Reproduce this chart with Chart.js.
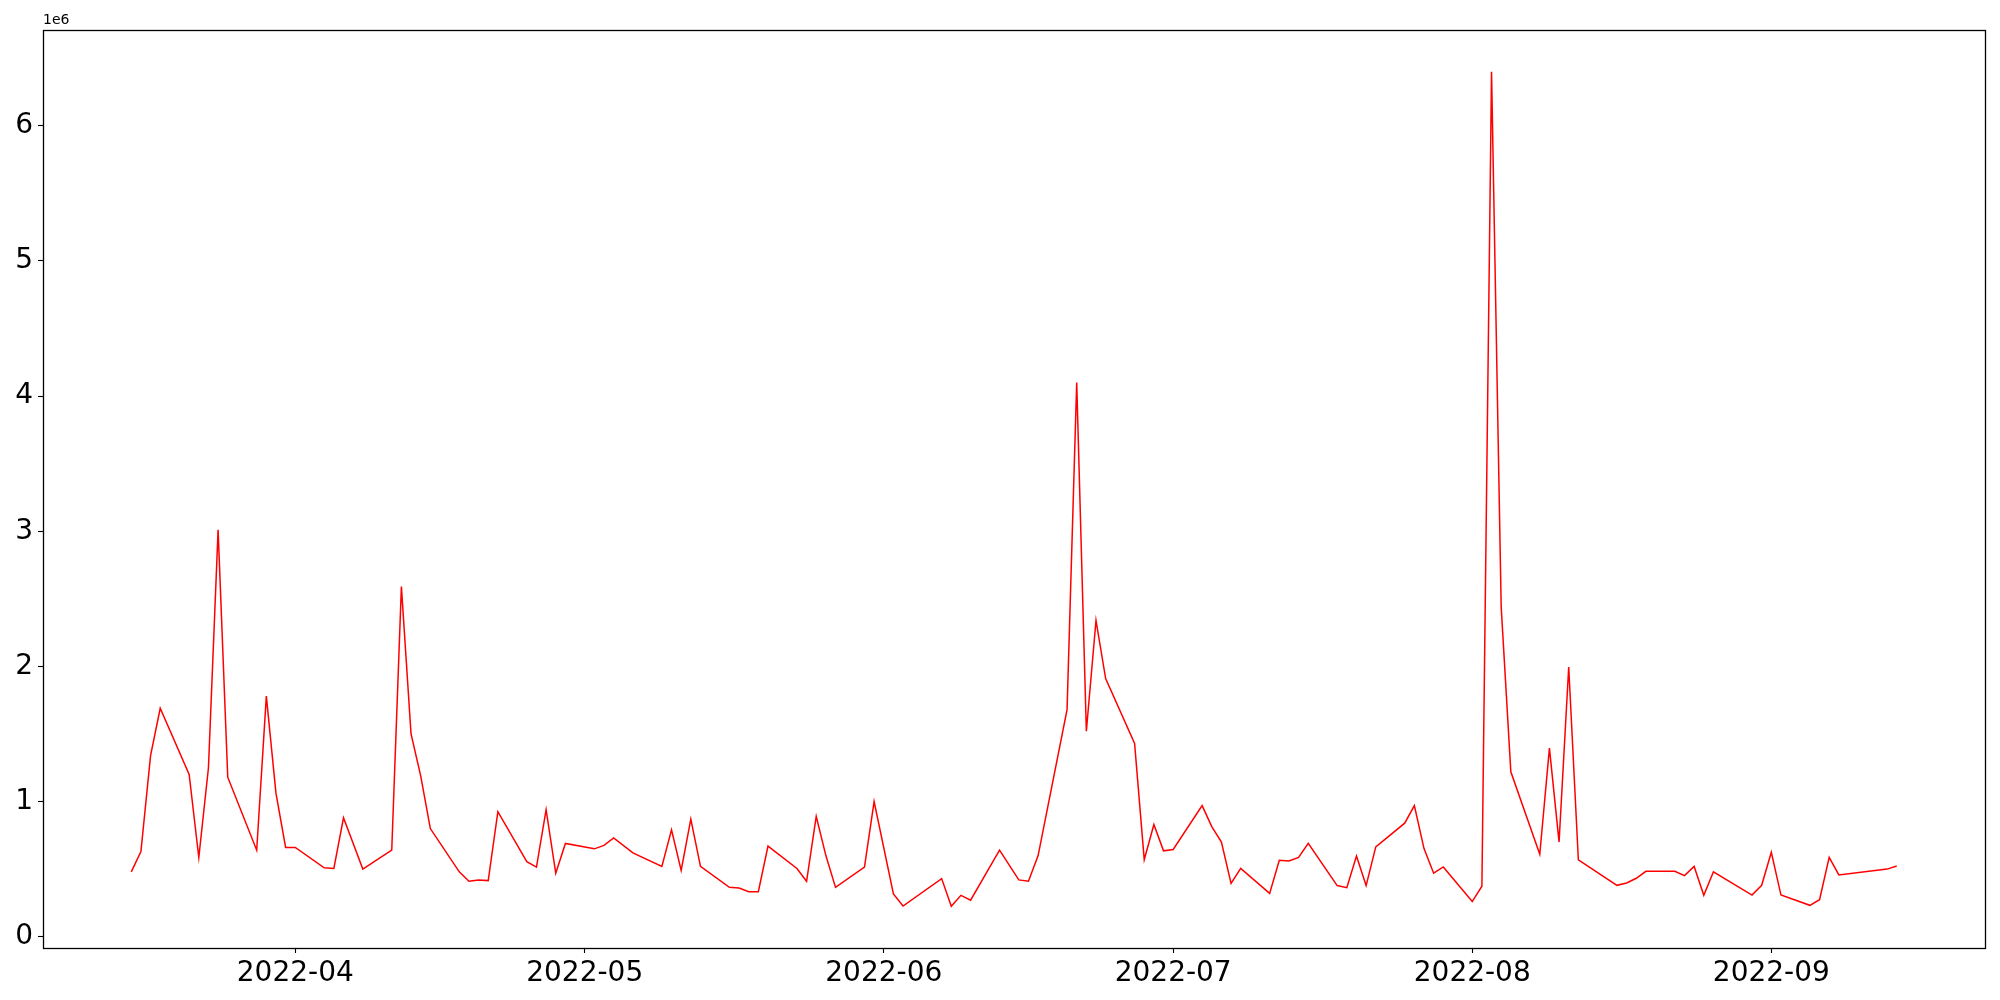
<!DOCTYPE html>
<html lang="en">
<head>
  <meta charset="UTF-8">
  <title>Daily volume 2022</title>
  <script src="https://cdn.jsdelivr.net/npm/chart.js"></script>
  <style>
    body { margin: 0; background: #fff; }
    canvas { display: block; }
  </style>
</head>
<body>
  <canvas id="lineChart" width="2000" height="1000"></canvas>
  <script>
    // trading days (month-day, year 2022)
    const dates = [
      '03-15', '03-16', '03-17', '03-18', '03-21', '03-22', '03-23', '03-24', '03-25',
      '03-28', '03-29', '03-30', '03-31', '04-01', '04-04', '04-05', '04-06', '04-08',
      '04-11', '04-12', '04-13', '04-14', '04-15', '04-18', '04-19', '04-20', '04-21', '04-22',
      '04-25', '04-26', '04-27', '04-28', '04-29', '05-02', '05-03', '05-04', '05-06',
      '05-09', '05-10', '05-11', '05-12', '05-13', '05-16', '05-17', '05-18', '05-19', '05-20',
      '05-23', '05-24', '05-25', '05-26', '05-27', '05-30', '05-31', '06-02', '06-03',
      '06-07', '06-08', '06-09', '06-10', '06-13', '06-15', '06-16', '06-17',
      '06-20', '06-21', '06-22', '06-23', '06-24', '06-27', '06-28', '06-29', '06-30', '07-01',
      '07-04', '07-05', '07-06', '07-07', '07-08', '07-11', '07-12', '07-13', '07-14', '07-15',
      '07-18', '07-19', '07-20', '07-21', '07-22', '07-25', '07-26', '07-27', '07-28', '07-29',
      '08-01', '08-02', '08-03', '08-04', '08-05', '08-08', '08-09', '08-10', '08-11', '08-12',
      '08-16', '08-17', '08-18', '08-19', '08-22', '08-23', '08-24', '08-25', '08-26',
      '08-30', '08-31', '09-01', '09-02', '09-05', '09-06', '09-07', '09-08', '09-13', '09-14'
    ];

    const values = [
      480000, 630000, 1340000, 1690000, 1200000, 585000, 1250000, 3010000, 1180000,
      640000, 1780000, 1060000, 660000, 660000, 510000, 505000, 880000, 500000,
      640000, 2590000, 1500000, 1190000, 800000, 480000, 410000, 420000, 415000, 925000,
      555000, 515000, 940000, 470000, 690000, 650000, 675000, 730000, 620000,
      520000, 790000, 490000, 870000, 520000, 365000, 360000, 333000, 333000, 670000,
      505000, 410000, 890000, 600000, 365000, 515000, 1000000, 316000, 227000,
      430000, 225000, 306000, 270000, 640000, 420000, 410000, 600000,
      1680000, 4100000, 1520000, 2340000, 1910000, 1430000, 570000, 830000, 635000, 645000,
      970000, 815000, 700000, 395000, 505000, 320000, 565000, 560000, 587000, 690000,
      378000, 363000, 597000, 378000, 664000, 840000, 970000, 652000, 470000, 516000,
      260000, 373000, 6400000, 2440000, 1220000, 610000, 1395000, 700000, 1995000, 568000,
      380000, 397000, 432000, 484000, 484000, 452000, 520000, 306000, 480000,
      308000, 380000, 625000, 308000, 232000, 274000, 587000, 457000, 500000, 523000
    ];

    const monthTicks = ['2022-04', '2022-05', '2022-06', '2022-07', '2022-08', '2022-09'];
    const yTicks = [0, 1, 2, 3, 4, 5, 6];
    const yScaleFactor = 1e6;

    const DAY = 86400000;
    const toDay = s => Date.parse(s + 'T00:00:00Z') / DAY;

    const points = dates.map((d, i) => ({ x: toDay('2022-' + d), y: values[i] }));

    // matplotlib-like 5% margins
    const xs = points.map(p => p.x);
    const xMin = Math.min(...xs), xMax = Math.max(...xs);
    const yMin = Math.min(...values), yMax = Math.max(...values);
    const xPad = (xMax - xMin) * 0.05;
    const yPad = (yMax - yMin) * 0.05;

    const FONT = 'DejaVu Sans';

    const framePlugin = {
      id: 'frame',
      afterDraw(chart) {
        const { ctx, chartArea: a } = chart;
        const l = Math.round(a.left) + 0.5, t = Math.round(a.top) + 0.5;
        const r = Math.round(a.right) + 0.5, b = Math.round(a.bottom) + 0.5;
        ctx.save();
        ctx.strokeStyle = '#000';
        ctx.lineWidth = 1.3;
        ctx.strokeRect(l, t, r - l, b - t);
        // offset text above the y axis
        ctx.fillStyle = '#000';
        ctx.font = '14px "' + FONT + '"';
        ctx.textAlign = 'left';
        ctx.textBaseline = 'bottom';
        ctx.fillText('1e6', a.left, a.top - 3);
        ctx.restore();
      }
    };

    new Chart(document.getElementById('lineChart').getContext('2d'), {
      type: 'line',
      data: {
        datasets: [{
          data: points,
          borderColor: '#ff0000',
          borderWidth: 1.5,
          pointRadius: 0,
          fill: false,
          tension: 0
        }]
      },
      options: {
        responsive: false,
        animation: false,
        layout: { padding: { top: 30, right: 15, bottom: 0, left: 0 } },
        plugins: { legend: { display: false }, tooltip: { enabled: false } },
        scales: {
          x: {
            type: 'linear',
            min: xMin - xPad,
            max: xMax + xPad,
            afterBuildTicks(scale) {
              scale.ticks = monthTicks.map(m => ({ value: toDay(m + '-01') }));
            },
            afterFit(scale) { scale.height = 52; },
            border: { display: false },
            grid: { drawOnChartArea: false, drawTicks: true, tickLength: 5, tickColor: '#000', tickWidth: 1.1 },
            ticks: {
              autoSkip: false,
              maxRotation: 0,
              padding: 4,
              color: '#000',
              font: { family: FONT, size: 28 },
              callback: v => new Date(v * DAY).toISOString().slice(0, 7)
            }
          },
          y: {
            min: yMin - yPad,
            max: yMax + yPad,
            afterBuildTicks(scale) {
              scale.ticks = yTicks.map(t => ({ value: t * yScaleFactor }));
            },
            afterFit(scale) { scale.width = 43; },
            border: { display: false },
            grid: { drawOnChartArea: false, drawTicks: true, tickLength: 5, tickColor: '#000', tickWidth: 1.1 },
            ticks: {
              padding: 5,
              color: '#000',
              font: { family: FONT, size: 28 },
              callback: v => String(Math.round(v / yScaleFactor))
            }
          }
        }
      },
      plugins: [framePlugin]
    });
  </script>
</body>
</html>
